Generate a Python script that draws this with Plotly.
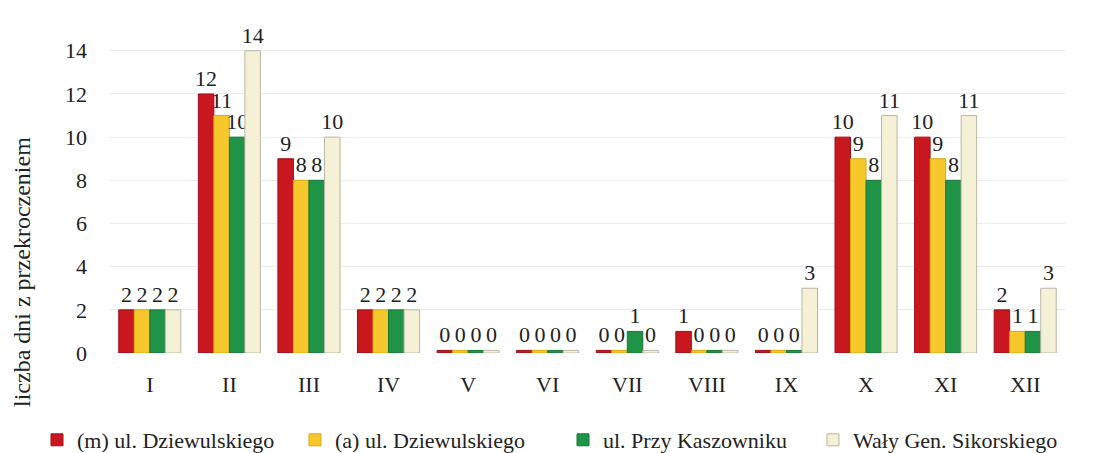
import plotly.graph_objects as go

months = ["I", "II", "III", "IV", "V", "VI", "VII", "VIII", "IX", "X", "XI", "XII"]
s_m_dziew = [2, 12, 9, 2, 0, 0, 0, 1, 0, 10, 10, 2]
s_a_dziew = [2, 11, 8, 2, 0, 0, 0, 0, 0, 9, 9, 1]
s_kasz = [2, 10, 8, 2, 0, 0, 1, 0, 0, 8, 8, 1]
s_waly = [2, 14, 10, 2, 0, 0, 0, 0, 3, 11, 11, 3]
names = ["(m) ul. Dziewulskiego", "(a) ul. Dziewulskiego", "ul. Przy Kaszowniku", "Wały Gen. Sikorskiego"]
yticks = [0, 2, 4, 6, 8, 10, 12, 14]
y_title = "liczba dni z przekroczeniem"

colors = ["#c8171f", "#f7c82c", "#1f9446", "#f5f1d6"]
edges = ["#9e1016", "#d9a80f", "#17763a", "#b9b6a6"]
serif = "Liberation Serif"
W, H = 1098, 453
L, R, T, B = 102, 41, 32, 108
legend_marker_x = [49, 307, 575, 825]

fig = go.Figure()
legend_ids = ["legend", "legend2", "legend3", "legend4"]
for vals, name, c, e, lid in zip([s_m_dziew, s_a_dziew, s_kasz, s_waly], names, colors, edges, legend_ids):
    shown = [v if v > 0 else 0.12 for v in vals]
    fig.add_trace(go.Bar(
        x=months, y=shown, name=name, legend=lid, showlegend=True,
        marker=dict(color=c, line=dict(color=e, width=1)),
        text=[str(v) for v in vals], textposition="outside",
        textfont=dict(family=serif, size=22, color="#222"),
        cliponaxis=False,
    ))

layout_legends = {}
for lid, mx in zip(legend_ids, legend_marker_x):
    layout_legends[lid] = dict(
        orientation="h", xref="container", yref="container",
        x=(mx - 20) / W, xanchor="left", y=(H - 432) / H, yanchor="middle",
        font=dict(size=22, family=serif), itemwidth=30, bgcolor="rgba(0,0,0,0)",
    )

plot_w = W - L - R
plot_h = H - T - B
fig.add_annotation(
    text=y_title, textangle=-90, showarrow=False,
    xref="paper", yref="paper",
    x=(14 - L) / plot_w, y=(H - B - 264) / plot_h,
    xanchor="center", yanchor="middle",
    font=dict(size=24, family=serif, color="#222"),
)

fig.update_layout(
    width=W, height=H, showlegend=True,
    paper_bgcolor="white", plot_bgcolor="white",
    margin=dict(l=L, r=R, t=T, b=B, autoexpand=False),
    barmode="group", bargap=0.22, bargroupgap=0.0,
    uniformtext=dict(minsize=22, mode="show"),
    font=dict(family=serif, size=22, color="#222"),
    xaxis=dict(showline=False, ticks="", tickfont=dict(size=22, family=serif),
               ticklabelstandoff=16),
    yaxis=dict(range=[0, 14.5], tickvals=yticks, showgrid=True, gridcolor="#ededed",
               zeroline=False, ticks="", tickfont=dict(size=22, family=serif),
               ticklabelstandoff=22),
    **layout_legends,
)
fig.write_html("out.html")
